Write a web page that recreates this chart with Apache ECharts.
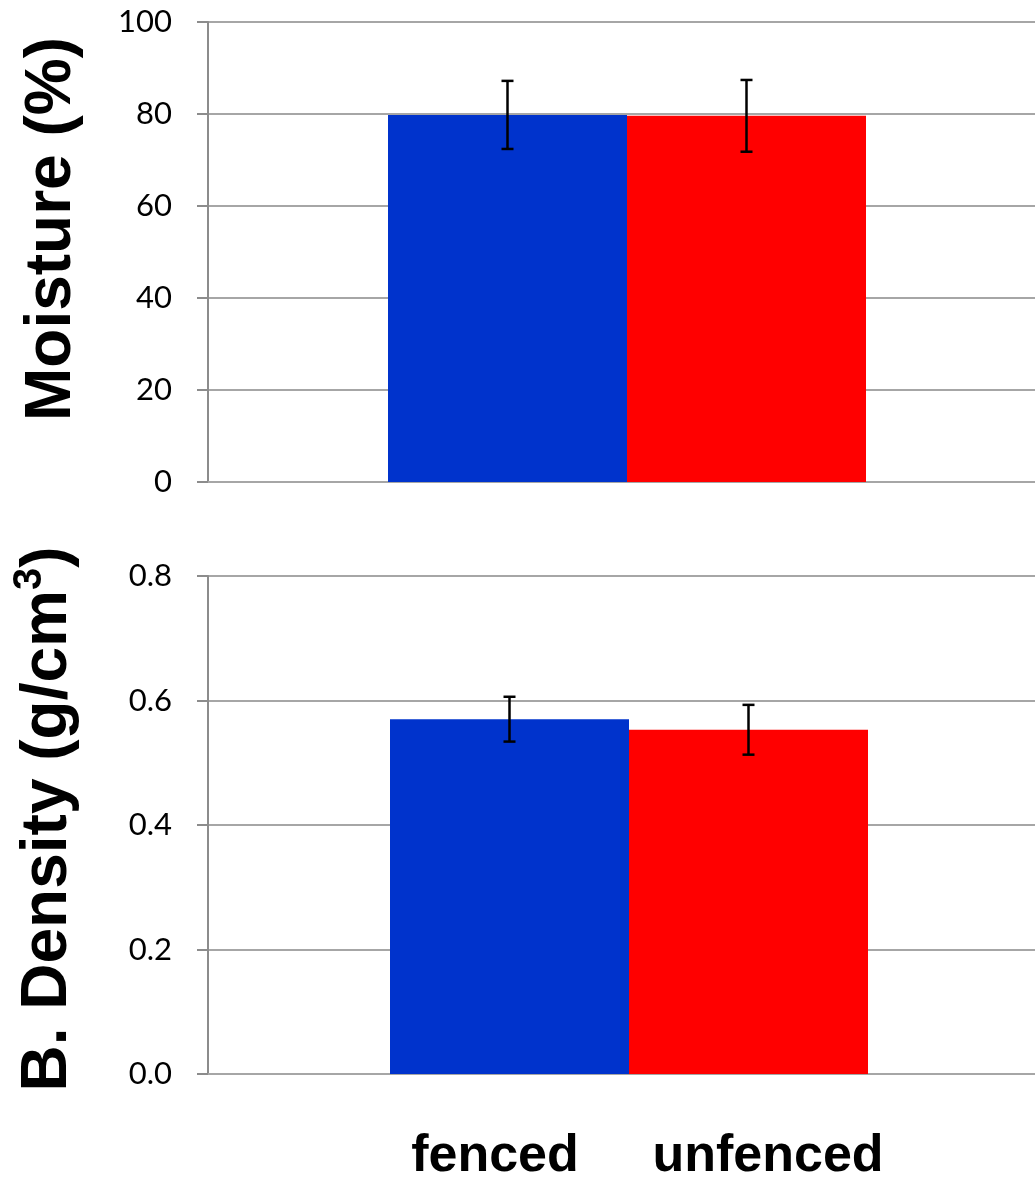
<!DOCTYPE html>
<html>
<head>
<meta charset="utf-8">
<script src="https://cdn.jsdelivr.net/npm/echarts@6/dist/echarts.min.js"></script>
<style>
  html, body { margin: 0; padding: 0; background: #fff; overflow: hidden; }
  /* plot area runs past the right edge of the window, so the canvas is a bit wider */
  #chart { width: 1060px; height: 1179px; }
</style>
</head>
<body>
<div id="chart"></div>
<script>
// Treatments and measured soil properties (mean ± error)
const treatments = ['fenced', 'unfenced'];
const moistureMean = [79.8, 79.6];
const moistureErr = [7.4, 7.8];
const densityMean = [0.570, 0.553];
const densityErr = [0.036, 0.040];
const moistureTicks = { min: 0, max: 100, interval: 20 };
const densityTicks = { min: 0, max: 0.8, interval: 0.2 };

const colors = ['#0033CC', '#FF0000'];
const BAR_W = 239;
const TEXT_FONT = '"Liberation Sans", Arial, sans-serif';
const TICK_FONT = 'Lato, "Open Sans", sans-serif';

function yAxisFor(gridIndex, ticks, decimals) {
  return {
    type: 'value', gridIndex,
    min: ticks.min, max: ticks.max, interval: ticks.interval,
    axisLine: { show: true, lineStyle: { color: '#8c8c8c', width: 2 } },
    axisTick: { show: true, inside: false, length: 11, lineStyle: { color: '#8c8c8c', width: 2 } },
    splitLine: { show: true, lineStyle: { color: '#a6a6a6', width: 2 } },
    axisLabel: {
      color: '#000', fontFamily: TICK_FONT, fontSize: 31, margin: 36,
      formatter: v => v.toFixed(decimals)
    }
  };
}

function xAxisFor(gridIndex) {
  return {
    type: 'category', gridIndex, data: ['soil'],
    axisLine: { show: true, lineStyle: { color: '#a6a6a6', width: 2 } },
    axisTick: { show: false },
    axisLabel: { show: false }
  };
}

function barSeries(gridIndex, means) {
  return treatments.map((t, i) => ({
    type: 'bar', name: t,
    xAxisIndex: gridIndex, yAxisIndex: gridIndex,
    data: [means[i]],
    barWidth: BAR_W, barGap: '0%',
    itemStyle: { color: colors[i] },
    silent: true
  }));
}

function errorSeries(gridIndex, means, errs) {
  const data = treatments.map((t, i) => [i, means[i] - errs[i], means[i] + errs[i]]);
  return {
    type: 'custom',
    xAxisIndex: gridIndex, yAxisIndex: gridIndex,
    data,
    z: 10,
    silent: true,
    renderItem: (params, api) => {
      const idx = api.value(0);
      const lo = api.coord([0, api.value(1)]);
      const hi = api.coord([0, api.value(2)]);
      const x = lo[0] + (idx === 0 ? -BAR_W / 2 : BAR_W / 2);
      const cap = 6;
      const style = { stroke: '#000', lineWidth: 2.5 };
      return {
        type: 'group',
        children: [
          { type: 'line', shape: { x1: x, y1: hi[1], x2: x, y2: lo[1] }, style },
          { type: 'line', shape: { x1: x - cap, y1: hi[1], x2: x + cap, y2: hi[1] }, style },
          { type: 'line', shape: { x1: x - cap, y1: lo[1], x2: x + cap, y2: lo[1] }, style }
        ]
      };
    }
  };
}

const chart = echarts.init(document.getElementById('chart'));
chart.setOption({
  animation: false,
  backgroundColor: '#fff',
  grid: [
    { left: 208, width: 838, top: 22, height: 460 },
    { left: 208, width: 842, top: 576, height: 498 }
  ],
  xAxis: [xAxisFor(0), xAxisFor(1)],
  yAxis: [yAxisFor(0, moistureTicks, 0), yAxisFor(1, densityTicks, 1)],
  series: [
    ...barSeries(0, moistureMean),
    errorSeries(0, moistureMean, moistureErr),
    ...barSeries(1, densityMean),
    errorSeries(1, densityMean, densityErr)
  ],
  graphic: [
    {
      type: 'text', x: 52, y: 229, rotation: Math.PI / 2,
      style: {
        text: 'Moisture (%)', font: 'bold 64px ' + TEXT_FONT,
        fill: '#000', align: 'center', verticalAlign: 'middle'
      }
    },
    {
      type: 'text', x: 45, y: 819, rotation: Math.PI / 2,
      style: {
        text: '{b|B. Density (g/cm}{s|3}{b|)}',
        align: 'center', verticalAlign: 'middle',
        rich: {
          b: { font: 'bold 64px ' + TEXT_FONT, fill: '#000', verticalAlign: 'bottom', lineHeight: 70 },
          s: { font: 'bold 40px ' + TEXT_FONT, fill: '#000', verticalAlign: 'top', lineHeight: 70 }
        }
      }
    },
    {
      type: 'text', x: 495, y: 1157,
      style: {
        text: treatments[0], font: 'bold 52px ' + TEXT_FONT,
        fill: '#000', align: 'center', verticalAlign: 'middle'
      }
    },
    {
      type: 'text', x: 768, y: 1157,
      style: {
        text: treatments[1], font: 'bold 52px ' + TEXT_FONT,
        fill: '#000', align: 'center', verticalAlign: 'middle'
      }
    }
  ]
});
</script>
</body>
</html>
